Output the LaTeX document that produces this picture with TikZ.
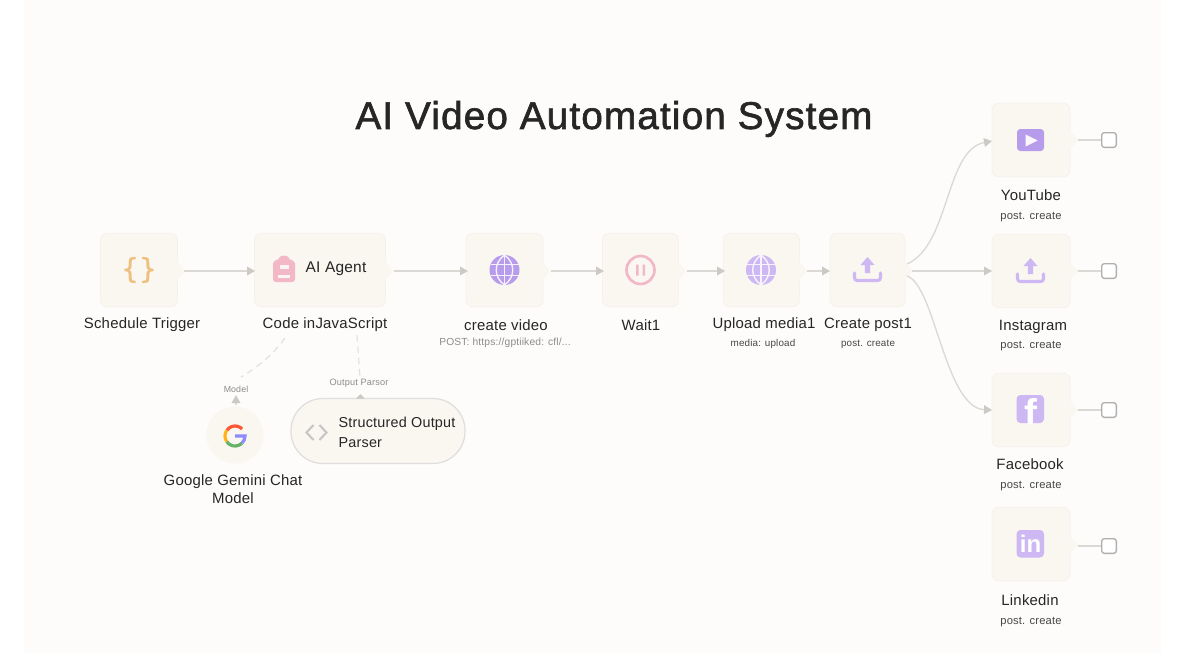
\documentclass[tikz,border=0pt]{standalone}
\usepackage{fontspec}
\setmainfont{Liberation Sans}[LetterSpace=1.5]
\newfontfamily\titlefont{Liberation Sans}[FakeBold=1.6,LetterSpace=3]
\newfontfamily\bracefont{DejaVu Sans}[FakeBold=0.8]
\newfontfamily\logofont{Liberation Sans}
\usetikzlibrary{arrows.meta,shapes.geometric}
\definecolor{pagebg}{HTML}{FFFFFF}
\definecolor{panelbg}{HTML}{FDFCFA}
\definecolor{card}{HTML}{FAF6F0}
\definecolor{cardedge}{HTML}{F6F2EB}
\definecolor{wire}{HTML}{DBD9D5}
\definecolor{tipc}{HTML}{CDCAC6}
\definecolor{ink}{HTML}{262626}
\definecolor{gr}{HTML}{8E8C8A}
\definecolor{purp}{HTML}{B79CEC}
\definecolor{lilac}{HTML}{CDB8F3}
\definecolor{pinkc}{HTML}{F2B8C6}
\definecolor{amber}{HTML}{EDC07E}
\tikzset{
 x=0.75pt,y=-0.75pt,
 cardbox/.style={draw=cardedge,line width=.6pt,fill=card,rounded corners=5pt,minimum width=#1*0.75pt,minimum height=73.5*0.75pt,inner sep=0pt},
 lab/.style={font=\fontsize{11.2pt}{14pt}\selectfont,text=ink,inner sep=0pt,align=center},
 sub/.style={font=\fontsize{7.4pt}{9pt}\selectfont,text=ink!85,inner sep=0pt},
 subwide/.style={font=\fontsize{8.4pt}{10pt}\selectfont,text=ink!85,inner sep=0pt},
 tag/.style={font=\fontsize{6.9pt}{8pt}\selectfont,text=gr,inner sep=0pt},
 wireline/.style={draw=wire,line width=1pt},
 arrowed/.style={wireline,-{Triangle[length=6pt,width=6.5pt,fill=tipc,color=tipc]}},
 dashline/.style={draw=wire!80!white,line width=.9pt,dash pattern=on 5pt off 3.5pt},
 endbox/.style={draw=gr!70,line width=1pt,fill=white,rounded corners=2pt,minimum size=11pt,inner sep=0pt},
}
\newcommand{\globeicon}[3]{%
 \begin{scope}[shift={(#1,#2)}]
 \fill[#3] (0,0) circle[radius=15];
 \draw[white!85!#3,line width=1.05pt] (0,-15)--(0,15) (-14,-5.5)--(14,-5.5) (-14,5.5)--(14,5.5);
 \draw[white!85!#3,line width=1.05pt] (0,-15) .. controls (-11,-7) and (-11,7) .. (0,15) (0,-15) .. controls (11,-7) and (11,7) .. (0,15);
 \end{scope}}
\newcommand{\uploadicon}[3]{%
 \begin{scope}[shift={(#1,#2)}]
 \draw[#3,line width=2.3pt,line cap=round,rounded corners=2pt] (-13,3)--(-13,10.5)--(13,10.5)--(13,3);
 \fill[#3] (0,-13)--(7,-5)--(2.6,-5)--(2.6,3)--(-2.6,3)--(-2.6,-5)--(-7,-5)--cycle;
 \end{scope}}
\begin{document}
\begin{tikzpicture}
\useasboundingbox (0,0) rectangle (1200,653);
\fill[pagebg] (0,0) rectangle (1200,653);
\fill[panelbg] (24,0) rectangle (1161,653);
% title
\node[inner sep=0pt,text=ink,font=\fontsize{29pt}{34pt}\selectfont\titlefont] (title) at (614,119) {AI Video Automation System};
% cards
\node[cardbox=77] (sched) at (139,270) {};
\node[cardbox=131] (agent) at (320,270) {};
\node[cardbox=77] (video) at (504.5,270) {};
\node[cardbox=76] (wait) at (640.5,270) {};
\node[cardbox=76] (media) at (761.5,270) {};
\node[cardbox=75] (post) at (867.5,270) {};
\node[cardbox=78] (yt) at (1031,140) {};
\node[cardbox=78] (ig) at (1031,271) {};
\node[cardbox=78] (fb) at (1031,410) {};
\node[cardbox=78] (li) at (1031,544) {};
% output notch triangles
\foreach \cx in {178,386,543,679,800,905}{
 \fill[card] (\cx-2,260)--(\cx+7,271)--(\cx-2,282)--cycle;}
\foreach \cy in {140,271,410,545}{
 \fill[card] (1068,\cy-10)--(1078,\cy)--(1068,\cy+10)--cycle;}
% pill and circle
\node[draw=black!13,line width=.9pt,fill=card,rounded corners=24pt,minimum width=174*0.75pt,minimum height=65*0.75pt,inner sep=0pt] (parser) at (378,431) {};
\node[circle,draw=none,fill=card,minimum size=57*0.75pt,inner sep=0pt] (gem) at (235,435) {};
% connectors
\coordinate (schedR) at (184,271);\coordinate (agentL) at (255,271);
\draw[arrowed] (schedR)--(agentL);
\coordinate (agentR) at (394,271);\coordinate (videoL) at (468,271);
\draw[arrowed] (agentR)--(videoL);
\coordinate (videoR) at (551,271);\coordinate (waitL) at (604,271);
\draw[arrowed] (videoR)--(waitL);
\coordinate (waitR) at (687,271);\coordinate (mediaL) at (725,271);
\draw[arrowed] (waitR)--(mediaL);
\coordinate (mediaR) at (807,271);\coordinate (postL) at (830,271);
\draw[arrowed] (mediaR)--(postL);
\coordinate (postA) at (907,264);\coordinate (postB) at (912,271);\coordinate (postC) at (907,276);
\coordinate (ytL) at (992,141);\coordinate (igL) at (992,271);\coordinate (fbL) at (992,410);
\draw[arrowed] (postA) .. controls (950,245) and (945,150) .. (ytL);
\draw[arrowed] (postB)--(igL);
\draw[arrowed] (postC) .. controls (935,285) and (945,408) .. (fbL);
% end boxes
\node[endbox] (e1) at (1109,140) {};
\node[endbox] (e2) at (1109,271) {};
\node[endbox] (e3) at (1109,410) {};
\node[endbox] (e4) at (1109,546) {};
\coordinate (y1) at (1078,140);\coordinate (y2) at (1078,271);\coordinate (y3) at (1078,410);\coordinate (y4) at (1078,546);
\draw[wireline] (y1)--(e1);\draw[wireline] (y2)--(e2);\draw[wireline] (y3)--(e3);\draw[wireline] (y4)--(e4);
% dashed
\coordinate (d1) at (285,338);\coordinate (d2) at (357,335);\coordinate (mt) at (241,377);\coordinate (pt) at (360,378);
\draw[dashline] (d1) .. controls (275,352) and (260,366) .. (mt);
\draw[dashline] (d2)--(pt);
\coordinate (gtop) at (236,405);\coordinate (gtip) at (236,395);
\draw[arrowed,line width=.8pt] (gtop)--(gtip);
\fill[tipc] (360.5,394)--(356,398.5)--(365,398.5)--cycle;
% icons
\node[text=amber,inner sep=0pt,font=\fontsize{21pt}{21pt}\selectfont\bracefont] (braces) at (139,270) {\{\}};
% backpack
\fill[pinkc,rounded corners=2pt] (273,282) -- (273,266) .. controls (273,261) and (277,260) .. (279,260) .. controls (280,255) and (288,255) .. (289,260) .. controls (291,260) and (295,261) .. (295,266) -- (295,282) -- cycle;
\fill[white!85!pinkc] (279.5,265) rectangle (288.5,269);
\fill[white!85!pinkc] (278,275) rectangle (290,278);
\globeicon{504.5}{270}{purp}
\globeicon{761}{270}{lilac}
\draw[pinkc,line width=2pt,fill=card] (640.5,270) circle[radius=14];
\fill[pinkc] (636,264.5) rectangle (638.5,275.5) (642.5,264.5) rectangle (645,275.5);
\uploadicon{867.5}{270}{lilac}
\uploadicon{1030.5}{271}{lilac}
\fill[purp,rounded corners=2.5pt] (1017,129) rectangle (1044,151);
\fill[white!90!lilac] (1025.5,134.5)--(1037.5,140.5)--(1025.5,146.5)--cycle;
\begin{scope}
\fill[lilac,rounded corners=3pt] (1016.5,395) rectangle (1044,423);
\clip (1016.5,395) rectangle (1044,423);
\node[white,inner sep=0pt,font=\fontsize{29pt}{29pt}\selectfont\logofont\bfseries] (ff) at (1031,412) {f};
\end{scope}
\fill[lilac,rounded corners=3pt] (1016.5,530) rectangle (1044,557.5);
\node[white,inner sep=0pt,font=\fontsize{18pt}{18pt}\selectfont\logofont\bfseries] (ii) at (1030.5,544) {in};
% code icon
\draw[black!22,line width=1.6pt] (319.5,425)--(326.5,432.5)--(319.5,440) (313.5,425)--(306.5,432.5)--(313.5,440);
% google G
\begin{scope}[shift={(235,436)},line width=2.4pt]
\draw[red!65!orange!80] (315:10) arc[start angle=315,end angle=215,radius=10];
\draw[orange!65!yellow!90] (215:10) arc[start angle=215,end angle=145,radius=10];
\draw[green!50!black!60] (145:10) arc[start angle=145,end angle=45,radius=10];
\draw[blue!45!white] (45:10) arc[start angle=45,end angle=0,radius=10] -- (0,0);
\end{scope}
% labels
\node[lab] (l1) at (142,325) {Schedule Trigger};
\node[lab,font=\fontsize{11.6pt}{14pt}\selectfont] (l2) at (336,269) {AI Agent};
\node[lab] (l3) at (325,325) {Code inJavaScript};
\node[lab] (l4) at (506,325) {create video};
\node[sub,text=gr,font=\fontsize{7.7pt}{9pt}\selectfont] (l5) at (505,343) {POST: https://gptiiked: cfl/...};
\node[lab] (l6) at (641,325) {Wait1};
\node[lab] (l7) at (764,325) {Upload media1};
\node[sub] (l8) at (763,344) {media: upload};
\node[lab] (l9) at (868,325) {Create post1};
\node[sub] (l10) at (868,344) {post. create};
\node[lab] (l11) at (1031,195) {YouTube};
\node[subwide] (l12) at (1031,217) {post. create};
\node[lab] (l13) at (1033,326.5) {Instagram};
\node[subwide] (l14) at (1031,346) {post. create};
\node[lab] (l15) at (1030,464) {Facebook};
\node[subwide] (l16) at (1031,486) {post. create};
\node[lab] (l17) at (1030,600) {Linkedin};
\node[subwide] (l18) at (1031,622) {post. create};
\node[tag,font=\fontsize{6.6pt}{8pt}\selectfont] (t1) at (236,389) {Model};
\node[tag] (t2) at (359,383.5) {Output Parsor};
\node[lab,align=center] (l19) at (233,489) {Google Gemini Chat\\Model};
\node[lab,align=left,font=\fontsize{10.8pt}{14.6pt}\selectfont] (l20) at (397,432.5) {Structured Output\\Parser};
\end{tikzpicture}
\end{document}
